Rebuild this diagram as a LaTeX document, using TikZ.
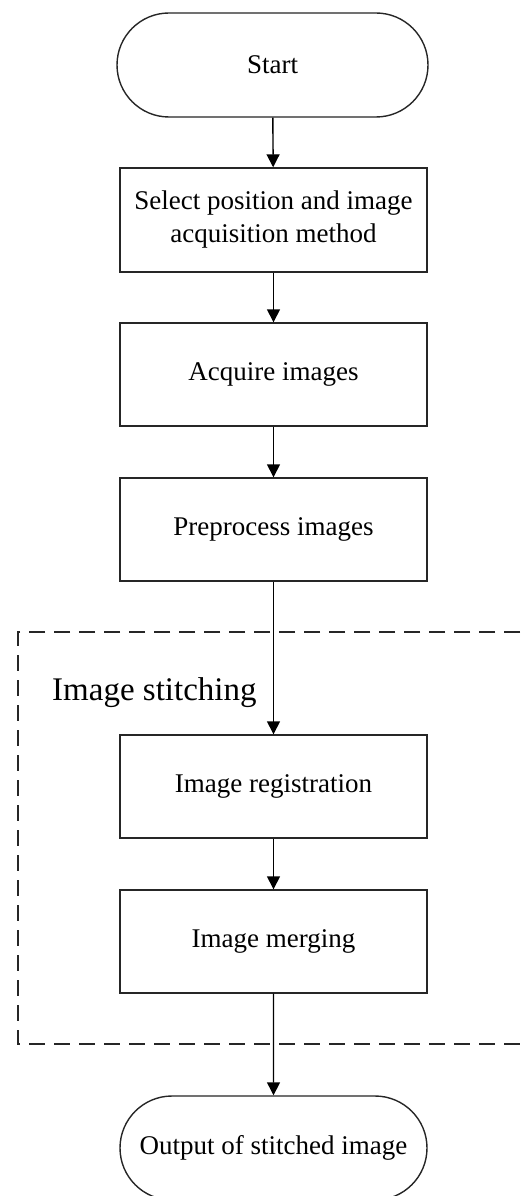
\documentclass[tikz,border=0pt]{standalone}
\usepackage{fontspec}
\setmainfont{Liberation Serif}
\usetikzlibrary{arrows.meta,shapes.misc}
\begin{document}
\begin{tikzpicture}[x=1pt,y=-1pt,
  box/.style={draw=black!85,line width=1.4pt,rectangle,minimum width=307pt,minimum height=104pt,inner sep=0pt,align=center,font=\fontsize{27}{33}\selectfont},
  term/.style={box,rounded rectangle,rounded rectangle arc length=180},
  flow/.style={draw=black,line width=1.4pt,-{Triangle[width=13pt,length=13pt]}},
  group/.style={draw=black!85,line width=1.4pt,dash pattern=on 16pt off 9pt}]
\clip (0,0) rectangle (521,1196);
\fill[white] (0,0) rectangle (521,1196);
\draw[group] (545,632) -- (18,632) -- (18,1044) -- (545,1044);
\node[anchor=base west,font=\fontsize{33}{36}\selectfont,inner sep=0pt] (lbl) at (52,700) {Image stitching};
\node[term,minimum width=311pt] (start) at (272.5,65) {Start};
\node[box] (sel) at (273.5,220) {Select position and image\\acquisition method};
\node[box,minimum height=103pt] (acq) at (273.5,374.5) {Acquire images};
\node[box,minimum height=103pt] (pre) at (273.5,529.5) {Preprocess images};
\node[box,minimum height=103pt] (reg) at (273.5,786.5) {Image registration};
\node[box,minimum height=103pt] (mrg) at (273.5,941.5) {Image merging};
\node[term] (out) at (273.5,1148) {Output of stitched image};
\draw[flow] (start) -- (sel);
\draw[flow] (sel) -- (acq);
\draw[flow] (acq) -- (pre);
\draw[flow] (pre) -- (reg);
\draw[flow] (reg) -- (mrg);
\draw[flow] (mrg) -- (out);
\end{tikzpicture}
\end{document}
